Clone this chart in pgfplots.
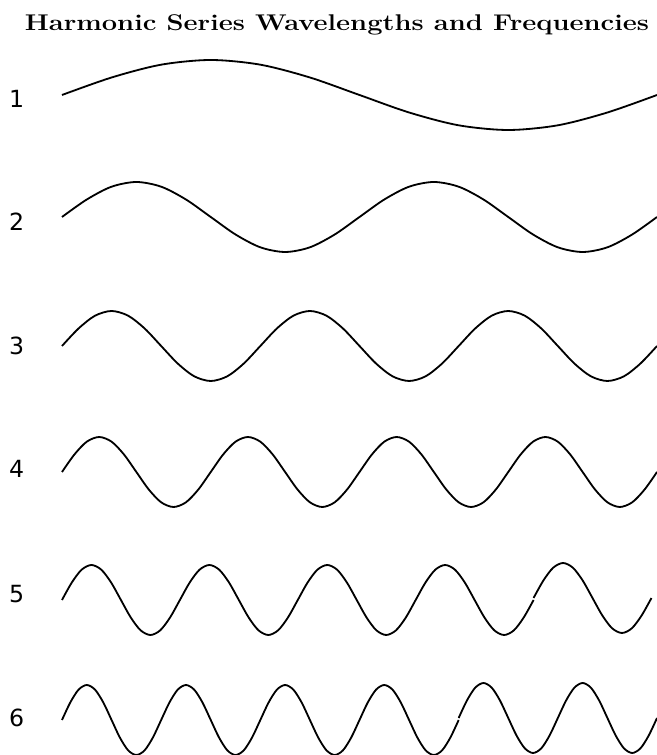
\documentclass[border=0pt]{standalone}
\usepackage{pgfplots}
\pgfplotsset{compat=1.18}
\usepackage{pgfplotstable}
\usepackage{fontspec}
\newfontfamily\labelfont{DejaVu Sans}

\pgfplotstableread{
ph y
0 0
30 0.5
60 0.866
90 1
120 0.866
150 0.5
180 0
210 -0.5
240 -0.866
270 -1
300 -0.866
330 -0.5
360 0
390 0.5
420 0.866
450 1
480 0.866
510 0.5
540 0
570 -0.5
600 -0.866
630 -1
660 -0.866
690 -0.5
720 0
750 0.5
780 0.866
810 1
840 0.866
870 0.5
900 0
930 -0.5
960 -0.866
990 -1
1020 -0.866
1050 -0.5
1080 0
1110 0.5
1140 0.866
1170 1
1200 0.866
1230 0.5
1260 0
1290 -0.5
1320 -0.866
1350 -1
1380 -0.866
1410 -0.5
1440 0
1470 0.5
1500 0.866
1530 1
1560 0.866
1590 0.5
1620 0
1650 -0.5
1680 -0.866
1710 -1
1740 -0.866
1770 -0.5
1800 0
1830 0.5
1860 0.866
1890 1
1920 0.866
1950 0.5
1980 0
2010 -0.5
2040 -0.866
2070 -1
2100 -0.866
2130 -0.5
2160 0
}\wave

\pgfplotsset{wv/.style={hide axis, scale only axis, width=327.25pt, height=38.5pt,
  xmin=0, ymin=-1, ymax=1, clip=false, anchor=west},
  wl/.style={black, line width=1pt, smooth, no marks}}

\begin{document}
\begin{tikzpicture}
\path[use as bounding box] (0,0) rectangle (361.35pt,415.25pt);
\node[anchor=base, inner sep=0pt] at (185.3pt,398.5pt)
  {\scalebox{1.2}[1]{\fontsize{12.5}{14}\selectfont\bfseries Harmonic Series Wavelengths and Frequencies}};
\foreach \n/\yy in {1/361.1, 2/293.15, 3/224.95, 4/157.3, 5/88.55, 6/20.6}
  \node[inner sep=0pt] at (9.1pt,\yy pt) {\labelfont\fontsize{13}{15}\selectfont \n};

\begin{axis}[wv, xmax=360, at={(34.1pt,363pt)}]
\addplot[wl, restrict x to domain=0:360] table[x=ph,y=y] {\wave};
\end{axis}
\begin{axis}[wv, xmax=720, at={(34.1pt,295.9pt)}]
\addplot[wl, restrict x to domain=0:720] table[x=ph,y=y] {\wave};
\end{axis}
\begin{axis}[wv, xmax=1080, at={(34.1pt,224.95pt)}]
\addplot[wl, restrict x to domain=0:1080] table[x=ph,y=y] {\wave};
\end{axis}
\begin{axis}[wv, xmax=1440, at={(34.1pt,155.65pt)}]
\addplot[wl, restrict x to domain=0:1440] table[x=ph,y=y] {\wave};
\end{axis}
\begin{axis}[wv, width=324.2pt, xmax=1800, at={(34.1pt,85.25pt)}]
\addplot[wl, restrict x to domain=0:1440] table[x=ph,y=y] {\wave};
\addplot[wl, yshift=1.1pt, restrict x to domain=1440:1800] table[x=ph,y=y] {\wave};
\end{axis}
\begin{axis}[wv, xmax=2160, at={(34.1pt,19.25pt)}]
\addplot[wl, restrict x to domain=0:1440] table[x=ph,y=y] {\wave};
\addplot[wl, yshift=1.1pt, restrict x to domain=1440:2160] table[x=ph,y=y] {\wave};
\end{axis}
\end{tikzpicture}
\end{document}
